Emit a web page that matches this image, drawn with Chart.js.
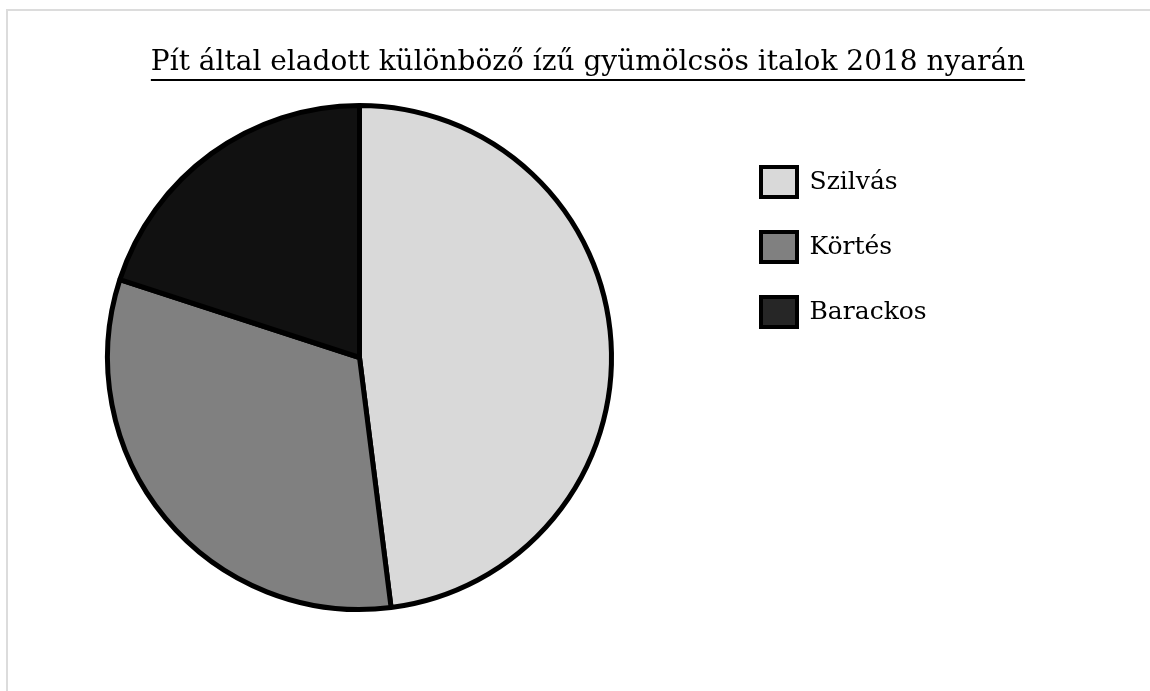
<!DOCTYPE html>
<html lang="hu">
<head>
<meta charset="utf-8">
<title>Gyümölcsös italok 2018</title>
<script src="https://cdn.jsdelivr.net/npm/chart.js@4.4.1/dist/chart.umd.min.js"></script>
<style>
  html, body { margin: 0; padding: 0; background: #fff; }
  body { width: 1150px; height: 691px; overflow: hidden; position: relative; }
  .frame {
    position: absolute; left: 6px; top: 9px; width: 1300px; height: 900px;
    border-left: 2px solid #dcdcdc; border-top: 2px solid #dcdcdc;
  }
  .wrap { position: absolute; left: 0; top: 0; width: 1150px; height: 691px; }
</style>
</head>
<body>
<div class="frame"></div>
<div class="wrap"><canvas id="pie"></canvas></div>
<script>
/* adatok */
const TITLE = 'Pít által eladott különböző ízű gyümölcsös italok 2018 nyarán';
const LABELS = ['Szilvás', 'Körtés', 'Barackos'];
const VALUES = [48, 32, 20];

const SLICE_COLORS  = ['#d9d9d9', '#808080', '#111111'];
const LEGEND_COLORS = ['#d9d9d9', '#808080', '#262626'];
const FONT = '"DejaVu Serif", Georgia, serif';
const TITLE_SIZE = 28;

// pin the pie, legend and title to where they sit in the original picture
const placeBoxes = {
  id: 'placeBoxes',
  afterLayout(chart) {
    const a = chart.chartArea;
    a.left = 105; a.right = 614; a.top = 103; a.bottom = 612;
    a.width = a.right - a.left; a.height = a.bottom - a.top;

    const lg = chart.legend;
    const dx = 726 - lg.left, dy = 132 - lg.top;
    lg.left += dx; lg.right += dx; lg.top += dy; lg.bottom += dy;

    const t = chart.titleBlock;
    const half = (t.right - t.left) / 2;
    t.left = 588 - half; t.right = 588 + half;
  },
  afterDraw(chart) {
    const t = chart.titleBlock, ctx = chart.ctx;
    ctx.save();
    ctx.font = `${TITLE_SIZE}px ${FONT}`;
    const w = ctx.measureText(TITLE).width;
    const cx = (t.left + t.right) / 2;
    const mid = t.top + TITLE_SIZE * 1.2 / 2;
    ctx.fillStyle = '#000';
    ctx.fillRect(cx - w / 2, Math.round(mid + TITLE_SIZE * 0.35 + 6), w, 2);
    ctx.restore();
  },
};

new Chart(document.getElementById('pie'), {
  type: 'pie',
  data: {
    labels: LABELS,
    datasets: [{
      data: VALUES,
      backgroundColor: SLICE_COLORS,
      borderColor: '#000',
      borderWidth: 5,
    }],
  },
  options: {
    responsive: true, maintainAspectRatio: false, animation: false,
    layout: { padding: { top: 46, left: 105, right: 20, bottom: 79 } },
    plugins: {
      title: {
        display: true, text: TITLE, color: '#000',
        font: { family: FONT, size: TITLE_SIZE, weight: 'normal', lineHeight: 1.2 },
        padding: { top: 0, bottom: 24 },
      },
      legend: {
        position: 'right', align: 'start',
        labels: {
          color: '#000', boxWidth: 36, boxHeight: 30, padding: 35,
          font: { family: FONT, size: 25 },
          generateLabels(chart) {
            const items = Chart.overrides.pie.plugins.legend.labels.generateLabels(chart);
            items.forEach((it, i) => { it.fillStyle = LEGEND_COLORS[i]; it.strokeStyle = '#000'; it.lineWidth = 4; });
            return items;
          },
        },
      },
      tooltip: { enabled: false },
    },
  },
  plugins: [placeBoxes],
});
</script>
</body>
</html>
